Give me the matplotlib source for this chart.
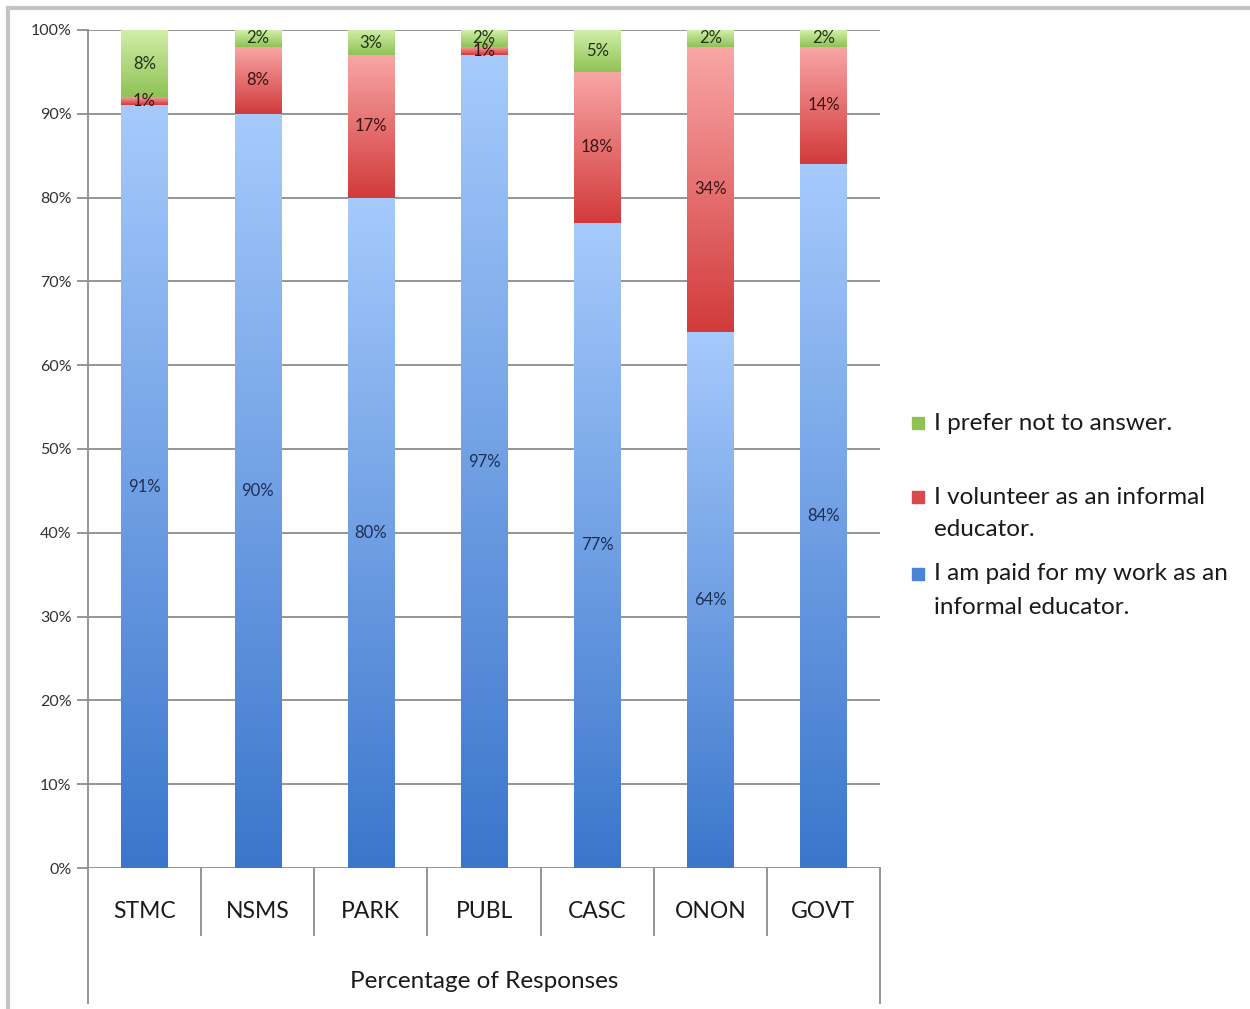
import numpy as np
import matplotlib
matplotlib.use("Agg")
import matplotlib.pyplot as plt
from matplotlib.colors import LinearSegmentedColormap
from matplotlib.patches import Rectangle
from matplotlib.lines import Line2D

categories = ["STMC", "NSMS", "PARK", "PUBL", "CASC", "ONON", "GOVT"]
paid = [91, 90, 80, 97, 77, 64, 84]
volunteer = [1, 8, 17, 1, 18, 34, 14]
no_answer = [8, 2, 3, 2, 5, 2, 2]
series_names = ["I am paid for my work as an\ninformal educator.",
                "I volunteer as an informal\neducator.",
                "I prefer not to answer."]
yticks = [0, 10, 20, 30, 40, 50, 60, 70, 80, 90, 100]
axis_title = "Percentage of Responses"

FONT = ["Lato", "DejaVu Sans"]
plt.rcParams['font.family'] = FONT

W, H = 1250, 1009
fig = plt.figure(figsize=(W / 100, H / 100), dpi=100)

def fx(px):
    return px / W

def fy(py):
    return 1 - py / H

ax_l, ax_r, ax_t, ax_b = 88, 880, 30, 868
ax = fig.add_axes([fx(ax_l), fy(ax_b), fx(ax_r - ax_l), fy(ax_t) - fy(ax_b)])

n = len(categories)
x = np.arange(n)

grid_c = "#8c8c8c"
for t in yticks:
    ax.axhline(t, color=grid_c, lw=1.3, zorder=0)

cmaps = [
    LinearSegmentedColormap.from_list("b", ["#3b76cc", "#a6cafc"]),
    LinearSegmentedColormap.from_list("r", ["#d23a3b", "#f9a6a6"]),
    LinearSegmentedColormap.from_list("g", ["#8fc255", "#d2efa9"]),
]
grad = np.linspace(0, 1, 256).reshape(-1, 1)

bottoms = np.zeros(n)
series = [paid, volunteer, no_answer]
label_c = ["#1c2f55", "#3a1414", "#1f3312"]
for si, vals in enumerate(series):
    vals = np.array(vals, dtype=float)
    bars = ax.bar(x, vals, width=0.41, bottom=bottoms, color="none", edgecolor="none", zorder=2)
    for b, v in zip(bars, vals):
        x0, y0 = b.get_x(), b.get_y()
        im = ax.imshow(grad, cmap=cmaps[si], origin="lower", aspect="auto",
                       extent=[x0, x0 + b.get_width(), y0, y0 + b.get_height()], zorder=2,
                       interpolation="bilinear")
        im.set_clip_path(b)
        ax.text(x0 + b.get_width() / 2, y0 + v / 2, f"{int(v)}%", ha="center", va="center",
                fontsize=12, color=label_c[si], zorder=3)
    bottoms = bottoms + vals

ax.set_xlim(-0.5, n - 0.5)
ax.set_ylim(0, 100)

ax.set_yticks(yticks)
ax.set_yticklabels([f"{t}%" for t in yticks], fontsize=11.5, color="#333333")
ax.tick_params(axis="y", length=8, width=1.3, color=grid_c, pad=4)
ax.set_xticks([])
for s in ["top", "right", "bottom"]:
    ax.spines[s].set_visible(False)
ax.spines["left"].set_color(grid_c)
ax.spines["left"].set_linewidth(1.3)

# category box below axes
cat_w = (ax_r - ax_l) / n
for k in range(n + 1):
    xp = ax_l + k * cat_w
    yb = 1003 if k in (0, n) else 935
    fig.add_artist(Line2D([fx(xp), fx(xp)], [fy(ax_b), fy(yb)], color=grid_c, lw=1.3))
for k, c in enumerate(categories):
    fig.text(fx(ax_l + (k + 0.5) * cat_w), fy(912), c, ha="center", va="center",
             fontsize=16.5, color="#1a1a1a")
fig.text(fx((ax_l + ax_r) / 2), fy(981), axis_title, ha="center", va="center",
         fontsize=17.5, color="#1a1a1a")

# legend
leg_items = [(2, 423), (1, 497), (0, 574)]
leg_cols = ["#4a84d6", "#d9484a", "#8fc255"]
for si, yp in leg_items:
    fig.add_artist(Rectangle((fx(912), fy(yp + 6)), fx(12), fy(0) - fy(12), color=leg_cols[si],
                             transform=fig.transFigure))
    for li, line in enumerate(series_names[si].split("\n")):
        fig.text(fx(934), fy(yp + li * 33), line, ha="left", va="center", fontsize=17.5,
                 color="#1a1a1a")

# outer frame
fig.add_artist(Line2D([fx(8), fx(8)], [fy(8), fy(H)], color="#c4c4c4", lw=3))
fig.add_artist(Line2D([fx(8), fx(W)], [fy(8), fy(8)], color="#c4c4c4", lw=3))

fig.savefig("out.png", dpi=100)
